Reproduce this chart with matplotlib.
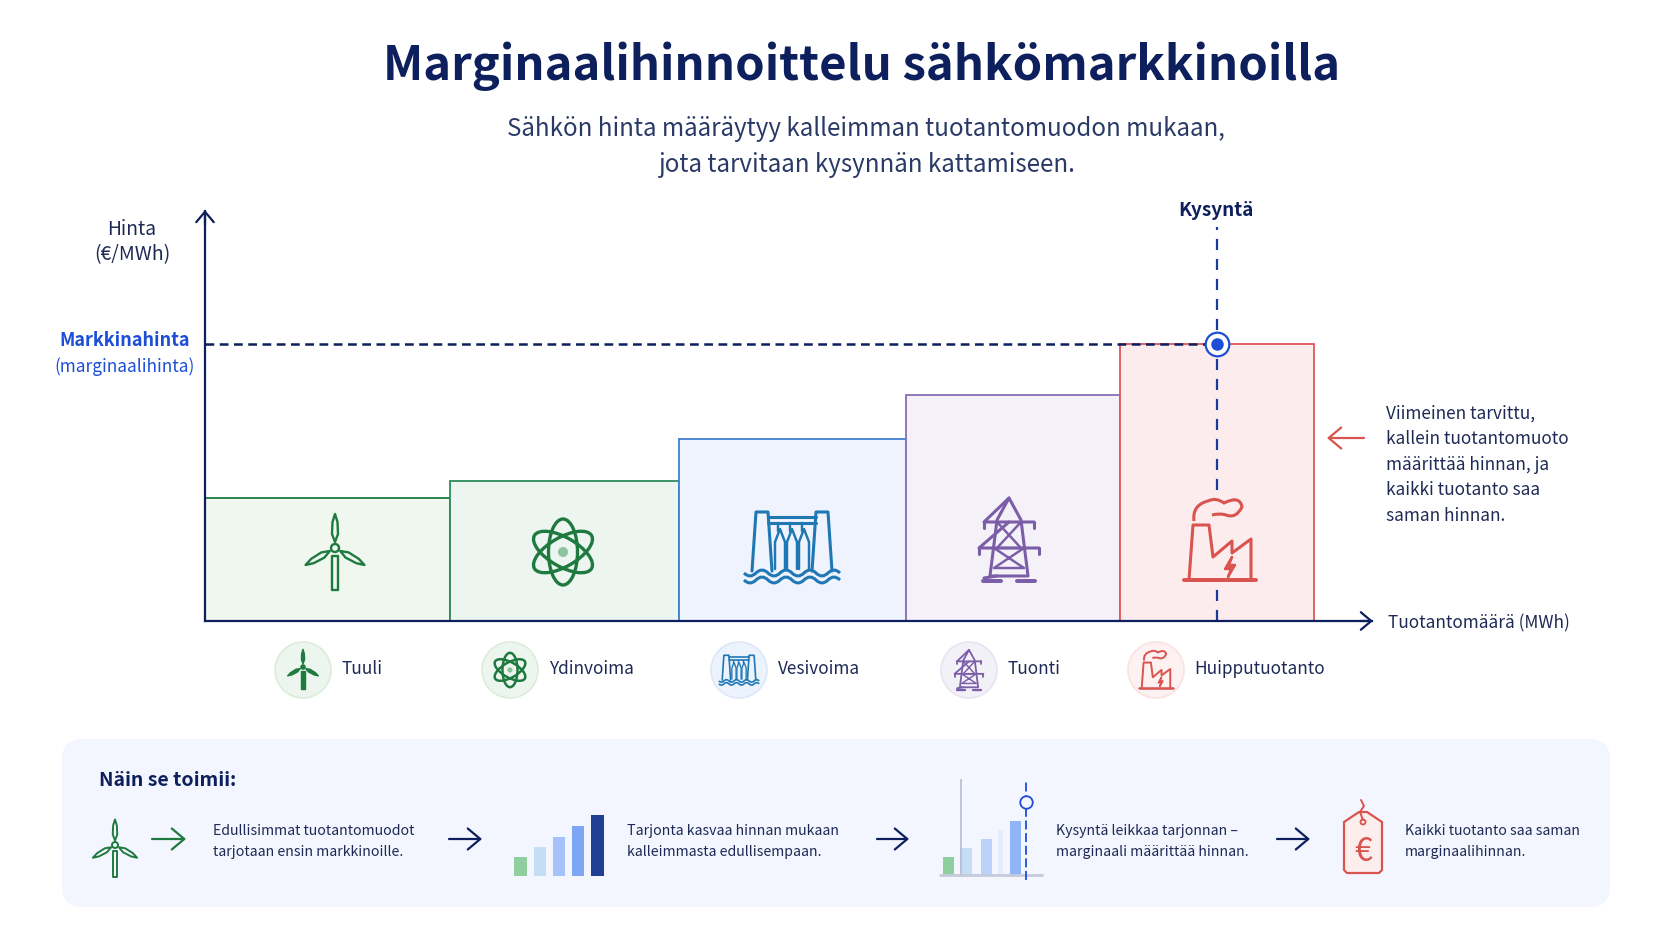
import numpy as np
from matplotlib import pyplot as plt
from matplotlib.patches import Circle, Ellipse, FancyBboxPatch, PathPatch, Polygon
from matplotlib.path import Path

plt.rcParams['font.family'] = ['Noto Sans CJK SC', 'DejaVu Sans']

# supply steps (one unit = one pixel of the original)
sources = ["Tuuli", "Ydinvoima", "Vesivoima", "Tuonti", "Huipputuotanto"]
volumes = [245, 229, 227, 214, 194]
prices = [123, 140, 182, 226, 277]
demand = 1012
market_price = 277

fills = ["#f0f7ee", "#ecf5f0", "#eef3fd", "#f4f1f9", "#fdecee"]
edges = ["#1f7a3f", "#2f8a5a", "#3f7fcf", "#8a70b5", "#e0565b"]
icon_colors = ["#1f7a3f", "#1f7a3f", "#1f78b4", "#7b5ea7", "#d9534f"]

# small bars in the lower panel
mini_supply = [19, 29, 39, 50, 61]
mini_supply_colors = ["#8fcf9f", "#c5def3", "#a5c2fb", "#7da7f5", "#1f3f94"]
mini_cross = [18, 27, 36, 45, 54]
mini_cross_colors = ["#8fcf9f", "#c5def3", "#bdd2fb", "#e4ecfd", "#8fb4f7"]

NAVY = "#0d1f5c"
TEXT = "#1e2a55"
BLUE = "#1d4ed8"

fig = plt.figure(figsize=(16.72, 9.41), dpi=100)
W, H = 1672, 941


def px_axes(x0, y_top, x1, y_bottom, zorder=0):
    return fig.add_axes([x0 / W, 1 - y_bottom / H, (x1 - x0) / W, (y_bottom - y_top) / H], zorder=zorder)


# main chart
ax = px_axes(205, 211, 1372, 621)
ax.patch.set_alpha(0)
ax.set_xlim(0, 1167)
ax.set_ylim(0, 410)
lefts = np.cumsum([0] + volumes[:-1])
ax.bar(lefts, prices, volumes, align='edge', color=fills, edgecolor=edges, linewidth=1.3, zorder=2)
ax.hlines(market_price, 0, demand, color=NAVY, linewidth=1.8, linestyle=(0, (3.5, 2.2)), zorder=3)
ax.vlines(demand, 131, 394, color="#1a3a9c", linewidth=1.6, linestyle=(0, (5, 4)), zorder=3)
ax.vlines(demand, 0, 33, color="#1a3a9c", linewidth=1.6, linestyle=(0, (5, 4)), zorder=3)
ax.plot([demand], [market_price], 'o', ms=17, mfc="white", mec=BLUE, mew=1.6, zorder=4)
ax.plot([demand], [market_price], 'o', ms=8, mfc=BLUE, mec=BLUE, zorder=5)
for side in ['top', 'right']:
    ax.spines[side].set_visible(False)
for side in ['left', 'bottom']:
    ax.spines[side].set_color(NAVY)
    ax.spines[side].set_linewidth(1.6)
    ax.spines[side].set_zorder(6)
ax.set_xticks([])
ax.set_yticks([])

# overlay in picture pixels for texts, icons and the lower panel
ov = fig.add_axes([0, 0, 1, 1], zorder=5)
ov.patch.set_alpha(0)
ov.set_xlim(0, W)
ov.set_ylim(H, 0)
ov.axis('off')


def arrow(x0, y0, x1, y1, color, lw=1.6, size=15):
    ov.annotate('', xy=(x1, y1), xytext=(x0, y0),
                arrowprops=dict(arrowstyle='->,head_length=0.5,head_width=0.42', color=color, lw=lw,
                                mutation_scale=size, shrinkA=0, shrinkB=0))


def label(x, y, s, size=12.4, color=TEXT, ha='left', weight='normal'):
    ov.text(x, y + 2, s, fontsize=size, color=color, ha=ha, va='center', fontweight=weight)


def curve(points, cx, cy, s, color, lw, fill='none', closed=False):
    # polyline in icon units
    pts = [(cx + s * a, cy + s * b) for a, b in points]
    ov.add_patch(Polygon(pts, closed=closed, fill=fill != 'none', facecolor=fill, edgecolor=color,
                         linewidth=lw, joinstyle='round', capstyle='round'))


def wind_icon(cx, cy, s, color, lw=1.8, solid=False):
    # hub at cx, cy
    blade = [(0, -6), (-3, -14), (-2.5, -26), (0, -34), (2.5, -26), (3, -14)]
    fill = color if solid else 'none'
    for ang in [0, 120, 240]:
        c, d = np.cos(np.radians(ang)), np.sin(np.radians(ang))
        curve([(a * c - b * d, a * d + b * c) for a, b in blade], cx, cy, s, color, lw, fill, True)
    ov.add_patch(Circle((cx, cy), 4 * s, fill=solid, facecolor=color, edgecolor=color, linewidth=lw))
    curve([(-3, 8), (3, 8), (3, 42), (-3, 42)], cx, cy, s, color, lw, fill, True)


def atom_icon(cx, cy, s, color, lw=2.4):
    for ang in [0, 60, 120]:
        ov.add_patch(Ellipse((cx, cy), 29 * s, 66 * s, angle=ang, fill=False, edgecolor=color, linewidth=lw))
    ov.add_patch(Circle((cx, cy), 5 * s, facecolor="#8cc4a0", edgecolor='none'))


def wave(x0, x1, y, s, n, color, lw, cx, cy):
    verts = [(cx + s * x0, cy + s * y)]
    codes = [Path.MOVETO]
    step = (x1 - x0) / (2 * n)
    for i in range(2 * n):
        sign = 1 if i % 2 == 0 else -1
        verts += [(cx + s * (x0 + (i + 0.5) * step), cy + s * (y + sign * 6)),
                  (cx + s * (x0 + (i + 1) * step), cy + s * y)]
        codes += [Path.CURVE3, Path.CURVE3]
    ov.add_patch(PathPatch(Path(verts, codes), fill=False, edgecolor=color, linewidth=lw))


def dam_icon(cx, cy, s, color, lw=2.2):
    curve([(-40, 24), (-36, -35), (-24, -35), (-20, 24)], cx, cy, s, color, lw)
    curve([(40, 24), (36, -35), (24, -35), (20, 24)], cx, cy, s, color, lw)
    curve([(-24, -30), (24, -30)], cx, cy, s, color, lw)
    curve([(-24, -24), (24, -24)], cx, cy, s, color, lw)
    for x in [-12, 0, 12]:
        curve([(x - 5, 22), (x - 5, -5), (x, -18), (x + 5, -5), (x + 5, 22)], cx, cy, s, color, lw * 0.8)
        curve([(x - 2, -24), (x - 2, -16)], cx, cy, s, color, lw * 0.8)
    wave(-48, 48, 26, s, 4, color, lw, cx, cy)
    wave(-48, 48, 33, s, 4, color, lw, cx, cy)


def pylon_icon(cx, cy, s, color, lw=2.2):
    curve([(0, -42), (-12, -20), (-19, 36), (19, 36), (12, -20)], cx, cy, s, color, lw, closed=True)
    curve([(-12, 36), (-25, 38)], cx, cy, s, color, lw)
    curve([(0, -42), (-25, -18), (25, -18), (0, -42)], cx, cy, s, color, lw)
    curve([(-25, -18), (-25, -12)], cx, cy, s, color, lw)
    curve([(25, -18), (25, -12)], cx, cy, s, color, lw)
    curve([(0, -18), (-30, 8), (30, 8), (0, -18)], cx, cy, s, color, lw)
    curve([(-30, 8), (-30, 14)], cx, cy, s, color, lw)
    curve([(30, 8), (30, 14)], cx, cy, s, color, lw)
    curve([(-12, -18), (12, 8), (-12, 8), (12, -18)], cx, cy, s, color, lw * 0.8)
    curve([(-15, 8), (15, 28), (-15, 28), (15, 8)], cx, cy, s, color, lw * 0.8)
    curve([(-26, 41), (-8, 41)], cx, cy, s, color, lw * 1.3)
    curve([(26, 41), (8, 41)], cx, cy, s, color, lw * 1.3)


def factory_icon(cx, cy, s, color, lw=2.2):
    curve([(-36, 41), (36, 41)], cx, cy, s, color, lw * 1.3)
    curve([(-31, 41), (-27, -14), (-11, -14), (-7, 18), (12, 2), (12, 14), (31, 0), (31, 41)], cx, cy, s, color, lw)
    curve([(12, 18), (5, 30), (11, 30), (8, 38), (15, 26), (9, 26), (12, 18)], cx, cy, s, color, lw * 0.8, color, True)
    verts = [(-26, -18), (-28, -34), (-12, -38), (-4, -42), (4, -36), (20, -44), (22, -32),
             (16, -20), (6, -24), (0, -26), (-8, -24)]
    codes = [Path.MOVETO] + [Path.CURVE3] * 10
    ov.add_patch(PathPatch(Path([(cx + s * a, cy + s * b) for a, b in verts], codes), fill=False,
                           edgecolor=color, linewidth=lw))


def tag_icon(cx, cy, color):
    curve([(-19, -22), (-19, 26), (-16, 29), (16, 29), (19, 26), (19, -22), (4, -32), (-4, -32)], cx, cy, 1, color, 1.6,
          "#fdeeee", True)
    ov.add_patch(Circle((cx, cy - 22), 2.5, fill=False, edgecolor=color, linewidth=1.3))
    curve([(0, -24), (-3, -32), (1, -38), (-2, -44)], cx, cy, 1, color, 1.4)
    ov.text(cx, cy + 8, "€", fontsize=23, color=color, ha='center', va='center')


# big icons inside the steps
wind_icon(335, 548, 1, icon_colors[0], 1.7)
atom_icon(563, 552, 1, icon_colors[1])
dam_icon(792, 547, 1, icon_colors[2])
pylon_icon(1009, 540, 1, icon_colors[3])
factory_icon(1220, 539, 1, icon_colors[4])

# axis arrow heads
arrow(205, 225, 205, 210, NAVY)
arrow(1360, 621, 1373, 621, NAVY)

# titles
label(862, 64, "Marginaalihinnoittelu sähkömarkkinoilla", size=34, color=NAVY, ha='center', weight='bold')
label(866, 127, "Sähkön hinta määräytyy kalleimman tuotantomuodon mukaan,", size=17.4, color="#2a3a66", ha='center')
label(866, 163, "jota tarvitaan kysynnän kattamiseen.", size=17.4, color="#2a3a66", ha='center')

# axis labels
label(132, 227, "Hinta", size=13.8, ha='center')
label(132, 253, "(€/MWh)", size=14, ha='center')
label(125, 339, "Markkinahinta", size=13, color=BLUE, ha='center', weight='bold')
label(125, 365, "(marginaalihinta)", color=BLUE, ha='center')
label(1216, 208, "Kysyntä", size=13.6, color=NAVY, ha='center', weight='bold')
label(1388, 621, "Tuotantomäärä (MWh)")

# note on the right
arrow(1364, 438, 1327, 438, "#d9534f", size=18)
note = ["Viimeinen tarvittu,", "kallein tuotantomuoto", "määrittää hinnan, ja", "kaikki tuotanto saa", "saman hinnan."]
for i, line in enumerate(note):
    label(1386, 411.5 + i * 25.6, line)

# legend row
legend_x = [303, 510, 739, 969, 1156]
legend_text_x = [341, 549, 778, 1008, 1194]
legend_bg = ["#edf6ee", "#edf6ee", "#edf3fc", "#f3f1f8", "#fdf1f1"]
legend_ring = ["#dcecdc", "#dcecdc", "#dce7f7", "#e8e4f0", "#f9e2e2"]
for i, name in enumerate(sources):
    ov.add_patch(Circle((legend_x[i], 670), 28, facecolor=legend_bg[i], edgecolor=legend_ring[i], linewidth=1.2))
    label(legend_text_x[i], 667, name)
wind_icon(303, 667, 0.52, icon_colors[0], 1.0, solid=True)
atom_icon(510, 670, 0.52, icon_colors[1], 1.8)
dam_icon(739, 670, 0.42, icon_colors[2], 1.2)
pylon_icon(969, 670, 0.48, icon_colors[3], 1.3)
factory_icon(1156, 669, 0.46, icon_colors[4], 1.4)

# lower panel
ov.add_patch(FancyBboxPatch((62, 739), 1548, 168, boxstyle="round,pad=0,rounding_size=20",
                            facecolor="#f3f6fe", edgecolor='none', zorder=0))
label(99, 779, "Näin se toimii:", size=14, color=NAVY, weight='bold')
wind_icon(115, 845, 0.75, icon_colors[0], 1.4)
arrow(152, 839, 186, 839, icon_colors[0], size=18)
for x0, x1 in [(449, 482), (877, 909), (1277, 1310)]:
    arrow(x0, 839, x1, 839, NAVY, size=18)

steps = [(213, "Edullisimmat tuotantomuodot", "tarjotaan ensin markkinoille."),
         (627, "Tarjonta kasvaa hinnan mukaan", "kalleimmasta edullisempaan."),
         (1056, "Kysyntä leikkaa tarjonnan –", "marginaali määrittää hinnan."),
         (1405, "Kaikki tuotanto saa saman", "marginaalihinnan.")]
for x, first, second in steps:
    label(x, 829, first, size=10.2)
    label(x, 850, second, size=10.2)

# supply bars in the panel
ax2 = px_axes(511, 800, 607, 876, zorder=6)
ax2.axis('off')
ax2.set_xlim(-0.5, 4.5)
ax2.set_ylim(0, 76)
ax2.bar(range(5), mini_supply, 0.64, color=mini_supply_colors)

# demand crossing bars in the panel
ax3 = px_axes(939, 779, 1043, 875, zorder=6)
ax3.axis('off')
ax3.set_xlim(0, 104)
ax3.set_ylim(0, 96)
ax3.bar([9, 27, 47, 61, 76], mini_cross, [11, 12, 11, 5, 11], color=mini_cross_colors)
ax3.vlines(22, 0, 96, color="#b4bdd2", linewidth=1.2)
ax3.hlines(0, 0, 104, color="#c4cbdc", linewidth=2.0, clip_on=False)
ax3.vlines(87, -5, 96, color=BLUE, linewidth=1.3, linestyle=(0, (5, 2)), clip_on=False)
ax3.plot([87], [73], 'o', ms=9, mfc="#f3f6fe", mec=BLUE, mew=1.3)

tag_icon(1363, 844, "#d9534f")

plt.savefig("out.png", dpi=100, facecolor="white")
